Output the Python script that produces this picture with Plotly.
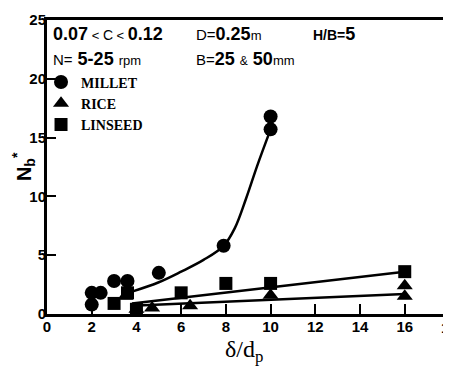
import plotly.graph_objects as go

# ---- data ----
millet_x = [2.0, 2.0, 2.4, 3.0, 3.6, 5.0, 7.9, 10.0, 10.0]
millet_y = [1.8, 0.8, 1.8, 2.8, 2.8, 3.5, 5.8, 15.7, 16.8]

rice_x = [3.5, 4.0, 4.7, 6.4, 10.0, 16.0, 16.0]
rice_y = [1.5, 0.4, 0.5, 0.7, 1.6, 2.4, 1.5]

linseed_x = [3.0, 3.6, 4.0, 6.0, 8.0, 10.0, 16.0]
linseed_y = [0.9, 1.8, 0.4, 1.8, 2.6, 2.6, 3.6]

millet_fit_x = [3.8, 5.0, 6.0, 7.0, 7.9, 8.4, 8.9, 9.4, 10.0]
millet_fit_y = [1.9, 2.7, 3.6, 4.6, 5.8, 7.3, 9.8, 12.6, 15.7]
rice_fit_x = [3.8, 16.0]
rice_fit_y = [0.7, 1.7]
linseed_fit_x = [3.8, 16.0]
linseed_fit_y = [0.9, 3.6]

x_ticks = [0, 2, 4, 6, 8, 10, 12, 14, 16]
y_ticks = [0, 5, 10, 15, 20, 25]

SANS = "Liberation Sans, Arial, sans-serif"
SERIF = "Liberation Serif, DejaVu Serif, serif"

fig = go.Figure()
line_style = dict(color="black", width=2.5)
fig.add_trace(go.Scatter(x=millet_fit_x, y=millet_fit_y, mode="lines",
                         line=dict(color="black", width=2.5, shape="spline"),
                         showlegend=False, hoverinfo="skip"))
fig.add_trace(go.Scatter(x=rice_fit_x, y=rice_fit_y, mode="lines",
                         line=line_style, showlegend=False, hoverinfo="skip"))
fig.add_trace(go.Scatter(x=linseed_fit_x, y=linseed_fit_y, mode="lines",
                         line=line_style, showlegend=False, hoverinfo="skip"))
fig.add_trace(go.Scatter(x=millet_x, y=millet_y, mode="markers", name="MILLET",
                         marker=dict(symbol="circle", size=14, color="black")))
fig.add_trace(go.Scatter(x=rice_x, y=rice_y, mode="markers", name="RICE",
                         marker=dict(symbol="triangle-up", size=14, color="black")))
fig.add_trace(go.Scatter(x=linseed_x, y=linseed_y, mode="markers", name="LINSEED",
                         marker=dict(symbol="square", size=13, color="black")))

# page body has an 8px margin: size/margins compensate so the plot area
# lands at x 47..448, y 13..314 of the 451x369 window
fig.update_layout(
    width=443, height=361,
    margin=dict(l=39, r=3, t=5, b=55),
    paper_bgcolor="white", plot_bgcolor="white",
    showlegend=True,
    legend=dict(x=-0.015, y=0.842, xanchor="left", yanchor="top",
                bgcolor="rgba(0,0,0,0)", borderwidth=0,
                font=dict(family=SERIF, size=14, color="black", weight="bold"),
                itemsizing="trace", tracegroupgap=0, itemwidth=30),
    font=dict(family=SANS, color="black"),
)

fig.update_xaxes(range=[0, 17.8], tickvals=x_ticks, ticktext=[str(v) for v in x_ticks],
                 showgrid=False, zeroline=False, showline=True, linewidth=3,
                 linecolor="black", mirror=True, ticks="inside", ticklen=10,
                 tickwidth=2, tickcolor="black", ticklabelstandoff=-3,
                 ticklabeloverflow="allow",
                 tickfont=dict(family=SANS, size=15, color="black", weight="bold"))
fig.update_yaxes(range=[0, 25], tickvals=y_ticks, ticktext=[str(v) for v in y_ticks],
                 showgrid=False, zeroline=False, showline=True, linewidth=3,
                 linecolor="black", mirror=True, ticks="inside", ticklen=9,
                 tickwidth=2, tickcolor="black", ticklabelstandoff=-5,
                 ticklabeloverflow="allow",
                 tickfont=dict(family=SANS, size=15, color="black", weight="bold"))

ann = [
    dict(text="<b>0.07</b><span style='font-size:13px'> < </span><span style='font-size:14px'>C</span><span style='font-size:13px'> < </span><b>0.12</b>",
         x=0.01, y=0.953, xanchor="left", yanchor="middle", font=dict(family=SANS, size=18)),
    dict(text="<span style='font-size:15px'>D=</span><b>0.25</b><span style='font-size:13px'>m</span>",
         x=0.369, y=0.953, xanchor="left", yanchor="middle", font=dict(family=SANS, size=18)),
    dict(text="<b><span style='font-size:14px'>H/B=</span>5</b>",
         x=0.663, y=0.953, xanchor="left", yanchor="middle", font=dict(family=SANS, size=18)),
    dict(text="<span style='font-size:15px'>N=</span> <b>5-25</b> <span style='font-size:13px'>rpm</span>",
         x=0.01, y=0.867, xanchor="left", yanchor="middle", font=dict(family=SANS, size=18)),
    dict(text="<span style='font-size:15px'>B=</span><b>25</b> <span style='font-size:12px'>&</span> <b>50</b><span style='font-size:13px'>mm</span>",
         x=0.369, y=0.867, xanchor="left", yanchor="middle", font=dict(family=SANS, size=18)),
    dict(text="18", x=1.0, y=-0.045, xanchor="center", yanchor="middle", xshift=4,
         font=dict(family=SANS, size=15, weight="bold")),
    dict(text="δ/d<sub>p</sub>", x=0.494, y=-0.125, xanchor="center", yanchor="middle",
         font=dict(family=SERIF, size=24)),
    dict(text="N<sub>b</sub><sup>*</sup>", x=-0.06, y=0.5, xanchor="center", yanchor="middle",
         textangle=-90, font=dict(family=SANS, size=20, weight="bold")),
]
for a in ann:
    a.update(xref="paper", yref="paper", showarrow=False)
    fig.add_annotation(**a)

fig.write_html("out.html")
